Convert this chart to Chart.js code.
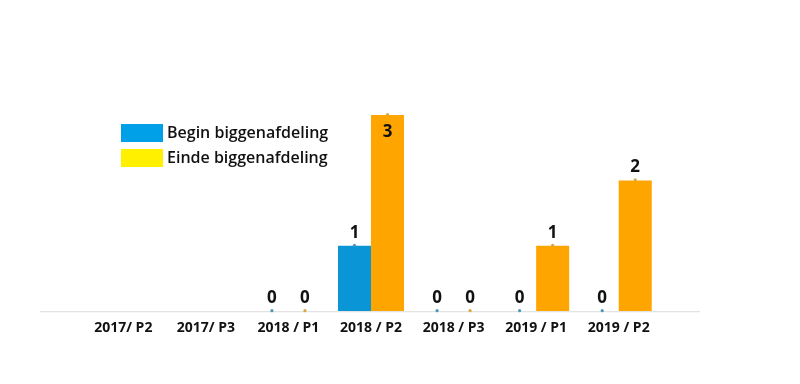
<!DOCTYPE html>
<html>
<head>
<meta charset="utf-8">
<script src="https://cdn.jsdelivr.net/npm/chart.js@4.4.0/dist/chart.umd.min.js"></script>
<style>
html,body{margin:0;padding:0;background:#fff;}
#wrap{width:800px;height:384px;position:relative;}
</style>
</head>
<body>
<div id="wrap"><canvas id="c" width="800" height="384"></canvas></div>
<script>
const categories = ["2017/ P2", "2017/ P3", "2018 / P1", "2018 / P2", "2018 / P3", "2019 / P1", "2019 / P2"];
const beginValues = [null, null, 0, 1, 0, 0, 0];
const eindeValues = [null, null, 0, 3, 0, 1, 2];
const seriesNames = ["Begin biggenafdeling", "Einde biggenafdeling"];

const barColors = ["#0a96d6", "#ffa500"];
const dotColors = ["#4f97b8", "#d9a640"];
const legendColors = ["#00a0e8", "#fff000"];

const overlay = {
  id: 'overlay',
  afterDatasetsDraw(chart) {
    const ctx = chart.ctx;
    const yScale = chart.scales.y;
    const base = yScale.getPixelForValue(0);
    ctx.save();
    ctx.strokeStyle = '#e3e3e3';
    ctx.lineWidth = 1.2;
    ctx.beginPath();
    ctx.moveTo(40, base + 0.5);
    ctx.lineTo(700, base + 0.5);
    ctx.stroke();
    ctx.restore();
    chart.data.datasets.forEach((ds, di) => {
      const meta = chart.getDatasetMeta(di);
      meta.data.forEach((bar, i) => {
        const v = ds.data[i];
        if (v === null || v === undefined) return;
        ctx.save();
        ctx.fillStyle = dotColors[di];
        ctx.beginPath();
        ctx.arc(bar.x, bar.y - 0.5, 1.6, 0, Math.PI * 2);
        ctx.fill();
        ctx.fillStyle = '#111';
        ctx.font = 'bold 17px "Open Sans", sans-serif';
        ctx.textAlign = 'center';
        ctx.textBaseline = 'middle';
        let ly = bar.y - 13;
        if (ly < chart.chartArea.top + 4) ly = bar.y + 17;
        ctx.fillText(String(v), bar.x, ly);
        ctx.restore();
      });
    });
    ctx.save();
    const lx = 121, ly0 = 124;
    seriesNames.forEach((n, k) => {
      const y = ly0 + k * 25;
      ctx.fillStyle = legendColors[k];
      ctx.fillRect(lx, y, 42, 18);
      ctx.fillStyle = '#111';
      ctx.font = '600 16px "Open Sans", sans-serif';
      ctx.textAlign = 'left';
      ctx.textBaseline = 'middle';
      ctx.fillText(n, lx + 46, y + 9.5);
    });
    ctx.restore();
  }
};

new Chart(document.getElementById('c'), {
  type: 'bar',
  data: {
    labels: categories,
    datasets: [
      { label: seriesNames[0], data: beginValues, backgroundColor: barColors[0], borderWidth: 0 },
      { label: seriesNames[1], data: eindeValues, backgroundColor: barColors[1], borderWidth: 0 }
    ]
  },
  options: {
    responsive: false,
    animation: false,
    devicePixelRatio: 1,
    layout: { padding: { left: 82, right: 140, top: 115, bottom: 40 } },
    datasets: { bar: { categoryPercentage: 0.8, barPercentage: 1.0 } },
    plugins: { legend: { display: false }, tooltip: { enabled: false } },
    scales: {
      x: {
        grid: { display: false, drawTicks: false },
        border: { display: false },
        ticks: { color: '#111', padding: 8, maxRotation: 0, font: { family: '"Open Sans", sans-serif', size: 14, weight: 'bold' } }
      },
      y: {
        display: false,
        min: 0,
        max: 3
      }
    }
  },
  plugins: [overlay]
});
</script>
</body>
</html>
